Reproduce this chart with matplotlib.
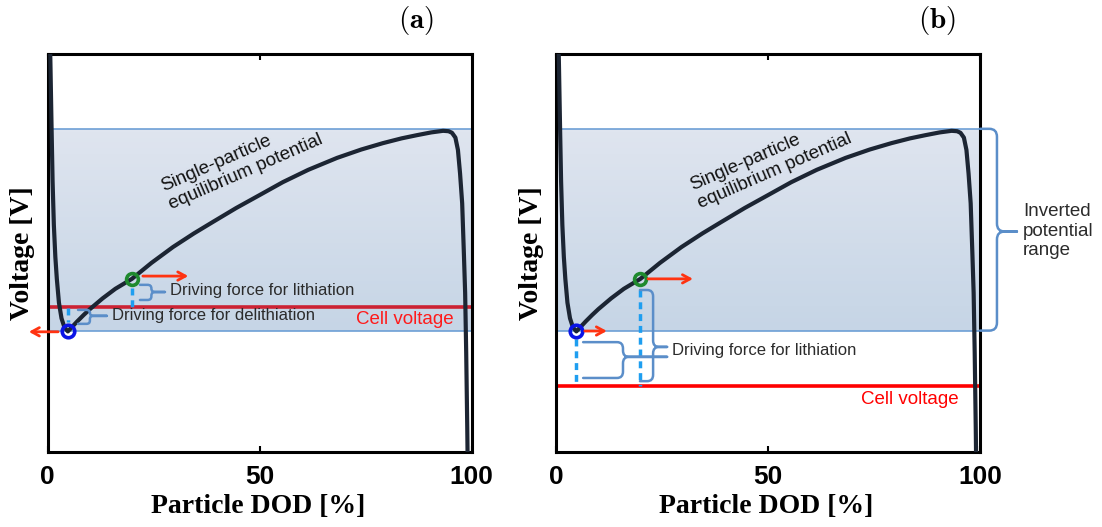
import numpy as np
import matplotlib
matplotlib.use('Agg')
import matplotlib.pyplot as plt
from matplotlib.path import Path
from matplotlib.patches import PathPatch, Rectangle
from matplotlib.colors import LinearSegmentedColormap

plt.rcParams['font.family'] = ['Liberation Sans', 'DejaVu Sans']
plt.rcParams['mathtext.fontset'] = 'cm'

# equilibrium potential curve (arbitrary voltage units)
dod = [0.5, 0.7, 0.95, 1.2, 1.5, 1.85, 2.2, 2.7, 3.3, 4.0,
       4.8, 5.6, 7.0, 8.5, 10.0, 13.0, 16.0, 19.9, 24.5, 29.6,
       34.5, 39.0, 44.5, 50.1, 55.5, 61.5, 68.3, 74.0, 79.1, 83.5,
       87.1, 90.5, 93.3, 94.6, 95.4, 96.2, 96.8, 97.3, 97.8, 98.2,
       98.5, 98.75, 99.0, 99.1]
volt = [108, 97, 82, 68, 57, 49, 43.5, 37.5, 33.6, 31.3,
        30.3, 31.2, 32.8, 34.4, 35.9, 38.6, 41.0, 43.5, 47.5, 51.5,
        54.9, 57.8, 61.3, 64.6, 67.8, 70.9, 73.9, 76.0, 77.6, 78.8,
        79.6, 80.3, 80.7, 80.6, 80.2, 79.0, 75.9, 70.0, 62.5, 50.0,
        40.0, 25.0, 6.0, -3.0]

range_low = 30.5
range_high = 81.2
cell_voltage = [36.4, 16.6]          # panel a, panel b
point_dod = [4.8, 19.9]              # delithiating / lithiating particle
point_volt = [30.3, 43.5]
xticks = [0, 50, 100]
panel_titles = ['(a)', '(b)']

CURVE = '#1c2533'
BRACE = '#5b8ec9'
DASH = '#1e9ef0'
ARROW = '#ff3311'
TXT = '#2b2b2b'

fig = plt.figure(figsize=(11.02, 5.27), dpi=100)
W, H = 1102, 527
ax_a = fig.add_axes([47.5 / W, 75 / H, 424 / W, 398 / H])
ax_b = fig.add_axes([556 / W, 75 / H, 424 / W, 398 / H])

grad = LinearSegmentedColormap.from_list('g', ['#c6d5e6', '#dfe5ef'])


def brace(ax, x0, xm, xt, ybot, ytop, ymid, r, rx):
    verts = [(x0, ytop), (xm - rx, ytop), (xm, ytop), (xm, ytop - r),
             (xm, ymid + r), (xm, ymid), (xm + rx, ymid), (xt, ymid),
             (x0, ybot), (xm - rx, ybot), (xm, ybot), (xm, ybot + r),
             (xm, ymid - r), (xm, ymid), (xm + rx, ymid), (xt, ymid)]
    codes = [Path.MOVETO, Path.LINETO, Path.CURVE3, Path.CURVE3,
             Path.LINETO, Path.CURVE3, Path.CURVE3, Path.LINETO] * 2
    ax.add_patch(PathPatch(Path(verts, codes), fill=False, ec=BRACE, lw=1.8,
                           clip_on=False, zorder=4, capstyle='round'))


def arrow(ax, x0, x1, y):
    ax.annotate('', xy=(x1, y), xytext=(x0, y), annotation_clip=False, zorder=6,
                arrowprops=dict(arrowstyle='->,head_length=0.55,head_width=0.3',
                                color=ARROW, lw=2, shrinkA=0, shrinkB=0))


def setup(ax, i, red):
    ax.imshow(np.linspace(0, 1, 64).reshape(-1, 1), cmap=grad, origin='lower',
              extent=[0, 100, range_low, range_high], aspect='auto', zorder=0.5)
    ax.add_patch(Rectangle((0, range_low), 100, range_high - range_low, fill=False,
                           ec='#6d9fd6', lw=1.2, zorder=1))
    ax.axhline(cell_voltage[i], color=red, lw=2.6, zorder=2)
    ax.plot(dod, volt, color=CURVE, lw=3, solid_joinstyle='round',
            solid_capstyle='round', zorder=3)
    ax.plot(point_dod[0], point_volt[0], 'o', ms=9, mfc='none', mec='#0a14e6',
            mew=2.6, zorder=5)
    ax.plot(point_dod[1], point_volt[1], 'o', ms=8.5, mfc='none', mec='#1f8a2e',
            mew=2.6, zorder=5)
    ax.set_xlim(0, 100)
    ax.set_ylim(0, 100)
    ax.set_yticks([])
    ax.set_xticks(xticks)
    ax.set_xticklabels([str(t) for t in xticks], fontfamily='Liberation Sans',
                       fontweight='bold', fontsize=19)
    ax.tick_params(axis='x', direction='in', top=True, length=4, width=1.5, pad=9)
    for s in ax.spines.values():
        s.set_linewidth(2.2)
        s.set_color('black')
    ax.text(-0.058, 0.5, 'Voltage [V]', rotation=90, ha='center', va='center',
            transform=ax.transAxes, fontfamily='Liberation Serif',
            fontweight='bold', fontsize=20)
    ax.text(0.496, -0.136, 'Particle DOD [%]', ha='center', va='center',
            transform=ax.transAxes, fontfamily='Liberation Serif',
            fontweight='bold', fontsize=20)
    tx = [0.869, 0.899][i]
    ax.text(tx, 1.083, r'$\mathbf{' + panel_titles[i] + '}$', ha='center',
            va='center', transform=ax.transAxes, fontsize=21)


# ---- panel (a)
setup(ax_a, 0, '#cc2233')
ax_a.text(27.9, 64.3, 'Single-particle\nequilibrium potential', rotation=23.5,
          rotation_mode='anchor', ha='left', va='center', multialignment='left',
          fontsize=13.5, color='#111111', zorder=6)
ax_a.plot([point_dod[1]] * 2, [41.3, cell_voltage[0]], color=DASH, lw=2.5,
          ls=(0, (2, 1.4)), zorder=4)
ax_a.plot([point_dod[0]] * 2, [cell_voltage[0] - 0.3, 32.6], color=DASH, lw=2.5,
          ls=(0, (2, 1.4)), zorder=4)
brace(ax_a, 21.8, 24.5, 27.7, 38.2, 42.0, 40.2, 0.9, 0.9)
brace(ax_a, 7.2, 10.0, 14.0, 32.2, 35.7, 34.2, 0.8, 0.8)
ax_a.text(28.9, 40.7, 'Driving force for lithiation', fontsize=12, color=TXT,
          va='center', ha='left', zorder=6)
ax_a.text(15.2, 34.2, 'Driving force for delithiation', fontsize=12, color=TXT,
          va='center', ha='left', zorder=6)
ax_a.text(84.3, 33.3, 'Cell voltage', fontsize=13.5, color='#ff1a1a',
          ha='center', va='center', zorder=6)
arrow(ax_a, 22.5, 33.2, 44.2)
arrow(ax_a, 2.5, -4.4, 30.2)

# ---- panel (b)
setup(ax_b, 1, '#ff0000')
ax_b.text(32.8, 64.6, 'Single-particle\nequilibrium potential', rotation=23.5,
          rotation_mode='anchor', ha='left', va='center', multialignment='left',
          fontsize=13.5, color='#111111', zorder=6)
ax_b.plot([point_dod[1]] * 2, [40.6, cell_voltage[1]], color=DASH, lw=2.5,
          ls=(0, (2, 1.4)), zorder=4)
ax_b.plot([point_dod[0]] * 2, [28.3, cell_voltage[1]], color=DASH, lw=2.5,
          ls=(0, (2, 1.4)), zorder=4)
brace(ax_b, 19.8, 22.9, 26.2, 17.8, 40.7, 26.4, 1.6, 1.4)
brace(ax_b, 6.4, 15.8, 26.2, 18.6, 27.6, 23.9, 1.6, 1.4)
ax_b.text(27.4, 25.4, 'Driving force for lithiation', fontsize=12, color=TXT,
          va='center', ha='left', zorder=6)
ax_b.text(83.5, 13.1, 'Cell voltage', fontsize=13.5, color='#ff0000',
          ha='center', va='center', zorder=6)
brace(ax_b, 100, 104, 108.7, range_low, range_high, 55.4, 2.0, 1.8)
ax_b.text(110.1, 55.5, 'Inverted\npotential\nrange', fontsize=13.5, color=TXT,
          ha='left', va='center', multialignment='left', zorder=6)
arrow(ax_b, 21.7, 32.3, 43.5)
arrow(ax_b, 6.8, 12.0, 30.4)

fig.savefig('out.png', dpi=100)
